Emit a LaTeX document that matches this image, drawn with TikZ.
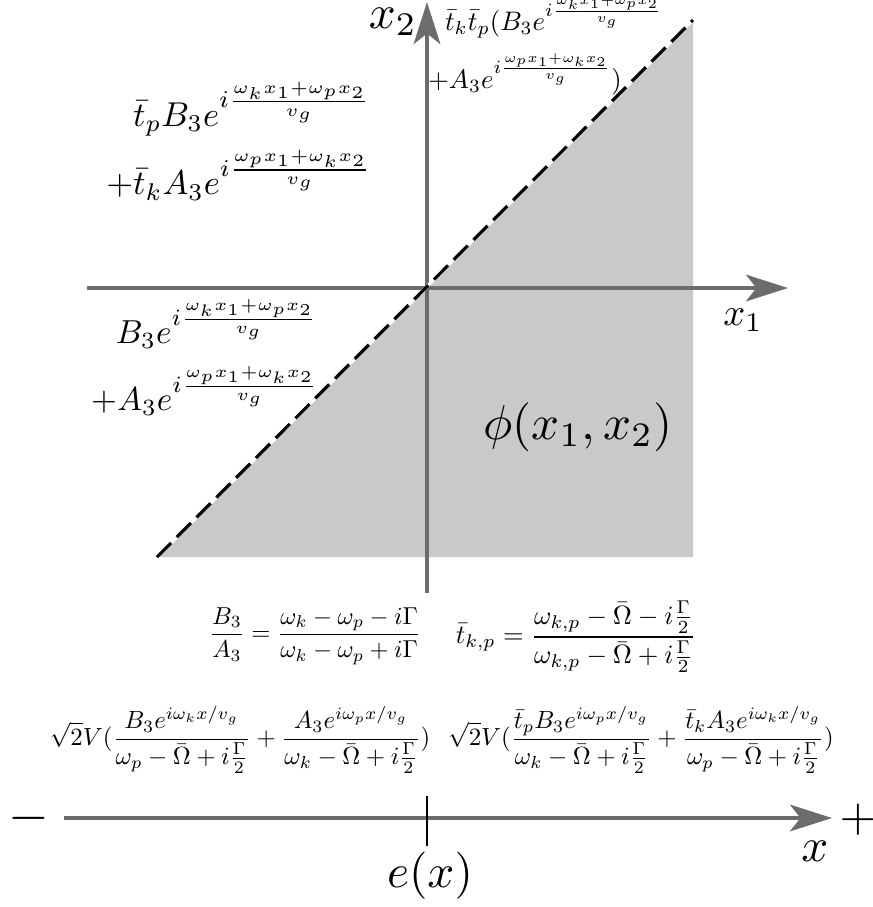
\documentclass[tikz,border=0pt]{standalone}
\usepackage{amsmath}
\usepackage{graphicx}
\usetikzlibrary{arrows.meta}
\definecolor{axisgray}{RGB}{108,108,111}
\definecolor{regiongray}{RGB}{200,201,203}
\begin{document}
\begin{tikzpicture}[x=0.2857pt,y=-0.2857pt,
  axis/.style={draw=axisgray,line width=1.15pt,-{Stealth[length=12pt,width=7.6pt,inset=3pt,fill=axisgray]}},
  lbl/.style={inner sep=0pt,outer sep=0pt},
  diag/.style={line width=0.9pt},
]
\useasboundingbox (0,0) rectangle (873,907);
% key points
\coordinate (O) at (427,288);
\coordinate (BL) at (157,557);
\coordinate (TR) at (693,20);
\coordinate (BR) at (693,557);
\coordinate (x1s) at (87,288);
\coordinate (x1e) at (788,288);
\coordinate (x2s) at (427,593);
\coordinate (x2e) at (427,2);
\coordinate (xs) at (64,818);
\coordinate (xe) at (832,818);
\coordinate (ts) at (427,796);
\coordinate (te) at (427,846);
% shaded region
\fill[regiongray] (BL) -- (TR) -- (BR) -- cycle;
% axes
\draw[axis] (x1s) -- (x1e);
\draw[axis] (x2s) -- (x2e);
% dashed diagonal
\draw[diag,white] (BL) -- (TR);
\draw[diag,black,dash pattern=on 5.7pt off 2.3pt] (BL) -- (TR);
% axis labels
\node[lbl] (lx2) at (393,22) {\scalebox{1.35}{$x_2$}};
\node[lbl] (lx1) at (743,320) {\scalebox{1.1}{$x_1$}};
\node[lbl] (phi) at (578,427) {\scalebox{1.4}{$\phi(x_1,x_2)$}};
% region formulas
\node[lbl] (tl1) at (252,109) {\scalebox{0.985}{$\bar{t}_pB_3e^{i\frac{\omega_kx_1+\omega_px_2}{v_g}}$}};
\node[lbl] (tl2) at (239,175) {\scalebox{0.985}{$+\bar{t}_kA_3e^{i\frac{\omega_px_1+\omega_kx_2}{v_g}}$}};
\node[lbl] (tr1) at (554,17) {\scalebox{0.765}{$\bar{t}_k\bar{t}_p(B_3e^{i\frac{\omega_kx_1+\omega_px_2}{v_g}}$}};
\node[lbl] (tr2) at (525,74) {\scalebox{0.765}{$+A_3e^{i\frac{\omega_px_1+\omega_kx_2}{v_g}})$}};
\node[lbl] (lm1) at (217,324) {\scalebox{0.95}{$B_3e^{i\frac{\omega_kx_1+\omega_px_2}{v_g}}$}};
\node[lbl] (lm2) at (205,391) {\scalebox{0.95}{$+A_3e^{i\frac{\omega_px_1+\omega_kx_2}{v_g}}$}};
% relations
\node[lbl] (rel1) at (315,636) {\scalebox{0.7}{$\displaystyle\frac{B_3}{A_3}=\frac{\omega_k-\omega_p-i\Gamma}{\omega_k-\omega_p+i\Gamma}$}};
\node[lbl] (rel2) at (576,637) {\scalebox{0.755}{$\displaystyle\bar{t}_{k,p}=\frac{\omega_{k,p}-\bar{\Omega}-i\frac{\Gamma}{2}}{\omega_{k,p}-\bar{\Omega}+i\frac{\Gamma}{2}}$}};
% bottom axis
\draw[axis] (xs) -- (xe);
\draw[black,line width=0.85pt] (ts) -- (te);
\node[lbl] (fl) at (240,740) {\scalebox{0.71}{$\displaystyle\sqrt{2}V(\frac{B_3e^{i\omega_kx/v_g}}{\omega_p-\bar{\Omega}+i\frac{\Gamma}{2}}+\frac{A_3e^{i\omega_px/v_g}}{\omega_k-\bar{\Omega}+i\frac{\Gamma}{2}})$}};
\node[lbl] (fr) at (641,740) {\scalebox{0.71}{$\displaystyle\sqrt{2}V(\frac{\bar{t}_pB_3e^{i\omega_px/v_g}}{\omega_k-\bar{\Omega}+i\frac{\Gamma}{2}}+\frac{\bar{t}_kA_3e^{i\omega_kx/v_g}}{\omega_p-\bar{\Omega}+i\frac{\Gamma}{2}})$}};
\node[lbl] (minus) at (29,818) {\scalebox{1.5}{$-$}};
\node[lbl] (plus) at (858,820) {\scalebox{1.35}{$+$}};
\node[lbl] (lx) at (815,851) {\scalebox{1.35}{$x$}};
\node[lbl] (ex) at (430,876) {\scalebox{1.35}{$e(x)$}};
\end{tikzpicture}
\end{document}
